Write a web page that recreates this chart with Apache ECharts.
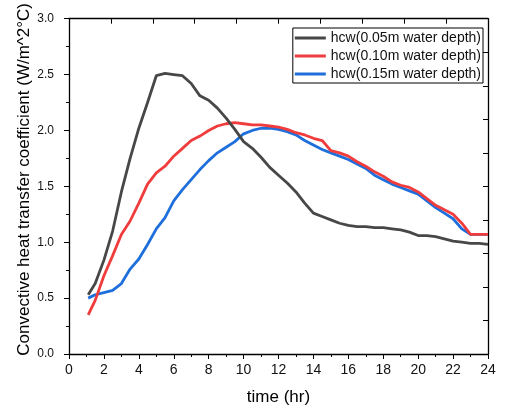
<!DOCTYPE html>
<html>
<head>
<meta charset="utf-8">
<script src="https://cdn.jsdelivr.net/npm/echarts@6/dist/echarts.min.js"></script>
<style>html,body{margin:0;padding:0;background:#fff}#c{width:509px;height:412px}</style>
</head>
<body>
<div id="c"></div>
<script>
var times = [1.1,1.5,2,2.5,3,3.5,4,4.5,5,5.5,6,6.5,7,7.5,8,8.5,9,9.5,10,10.5,11,11.5,12,12.5,13,13.5,14,14.5,15,15.5,16,16.5,17,17.5,18,18.5,19,19.5,20,20.5,21,21.5,22,22.5,23,23.5,24];
var hcw005 = [0.53,0.63,0.84,1.10,1.45,1.75,2.02,2.25,2.49,2.51,2.50,2.49,2.42,2.31,2.27,2.20,2.11,2.01,1.90,1.84,1.76,1.67,1.60,1.53,1.45,1.35,1.26,1.23,1.20,1.17,1.15,1.14,1.14,1.13,1.13,1.12,1.11,1.09,1.06,1.06,1.05,1.03,1.01,1.00,0.99,0.99,0.98];
var hcw010 = [0.35,0.48,0.70,0.88,1.07,1.19,1.35,1.52,1.62,1.68,1.77,1.84,1.91,1.95,2.00,2.04,2.06,2.07,2.06,2.05,2.05,2.04,2.03,2.01,1.98,1.96,1.93,1.91,1.82,1.80,1.77,1.72,1.68,1.63,1.59,1.54,1.51,1.49,1.45,1.39,1.33,1.29,1.25,1.17,1.07,1.07,1.07];
var hcw015 = [0.50,0.53,0.55,0.57,0.63,0.76,0.85,0.98,1.12,1.22,1.37,1.47,1.56,1.65,1.73,1.80,1.85,1.90,1.97,2.00,2.02,2.02,2.01,1.99,1.96,1.91,1.87,1.83,1.80,1.77,1.74,1.70,1.66,1.60,1.56,1.52,1.49,1.46,1.43,1.37,1.31,1.26,1.21,1.12,1.07,1.07,1.07];
var seriesNames = ['hcw(0.05m water depth)','hcw(0.10m water depth)','hcw(0.15m water depth)'];
var seriesColors = ['#474747','#f03c3c','#1e6fdc'];
var xTitle = 'time (hr)';
var yTitle = 'Convective heat transfer coefficient (W/m^2\u00B0C)';

function pairs(v){ return times.map(function(t,i){ return [t, v[i]]; }); }
var font = 'Liberation Sans, Arial, sans-serif';
var lineSt = {color:'#000',width:1.3};
var tickSt = {color:'#000',width:1};
var chart = echarts.init(document.getElementById('c'));
chart.setOption({
  animation:false,
  backgroundColor:'#fff',
  grid:{left:69,right:21,top:16,bottom:58},
  legend:{
    orient:'vertical', right:26, top:28, icon:'rect', itemWidth:31, itemHeight:3,
    itemGap:4, padding:[3,2,2,2], borderColor:'#000', borderWidth:1, borderRadius:0,
    textStyle:{fontSize:14, lineHeight:14, fontFamily:font, color:'#111'},
    data:seriesNames
  },
  xAxis:[
    {type:'value',position:'bottom',min:0,max:24,interval:2,
      name:xTitle,nameLocation:'middle',nameGap:35,nameMoveOverlap:false,
      nameTextStyle:{fontSize:17,fontFamily:font,color:'#000'},
      axisLine:{show:true,onZero:false,lineStyle:lineSt},
      axisTick:{show:true,length:5,lineStyle:tickSt},
      minorTick:{show:true,splitNumber:2,length:3,lineStyle:tickSt},
      splitLine:{show:false},
      axisLabel:{fontSize:14,fontFamily:font,color:'#111',margin:9}},
    {type:'value',position:'top',min:0,max:24,interval:2.4,
      axisLine:{show:true,onZero:false,lineStyle:lineSt},
      axisTick:{show:true,inside:true,length:5,lineStyle:tickSt},
      splitLine:{show:false},
      axisLabel:{show:false}}
  ],
  yAxis:[
    {type:'value',position:'left',min:0,max:3,interval:0.5,
      name:yTitle,nameLocation:'middle',nameGap:36,nameMoveOverlap:false,
      nameTextStyle:{fontSize:17,fontFamily:font,color:'#000',padding:[0,0,0,14]},
      axisLine:{show:true,onZero:false,lineStyle:lineSt},
      axisTick:{show:true,length:5,lineStyle:tickSt},
      minorTick:{show:true,splitNumber:2,length:3,lineStyle:tickSt},
      splitLine:{show:false},
      axisLabel:{fontSize:12,fontFamily:font,color:'#111',margin:15,
        formatter:function(v){return v.toFixed(1);}}},
    {type:'value',position:'right',min:0,max:3,interval:0.3,
      axisLine:{show:true,onZero:false,lineStyle:lineSt},
      axisTick:{show:true,inside:true,length:5,lineStyle:tickSt},
      splitLine:{show:false},
      axisLabel:{show:false}}
  ],
  series:[hcw005,hcw010,hcw015].map(function(v,i){
    return {name:seriesNames[i],type:'line',data:pairs(v),symbol:'none',
      lineStyle:{width:2.8,color:seriesColors[i]},itemStyle:{color:seriesColors[i]},
      z:3-i};
  })
});
</script>
</body>
</html>
